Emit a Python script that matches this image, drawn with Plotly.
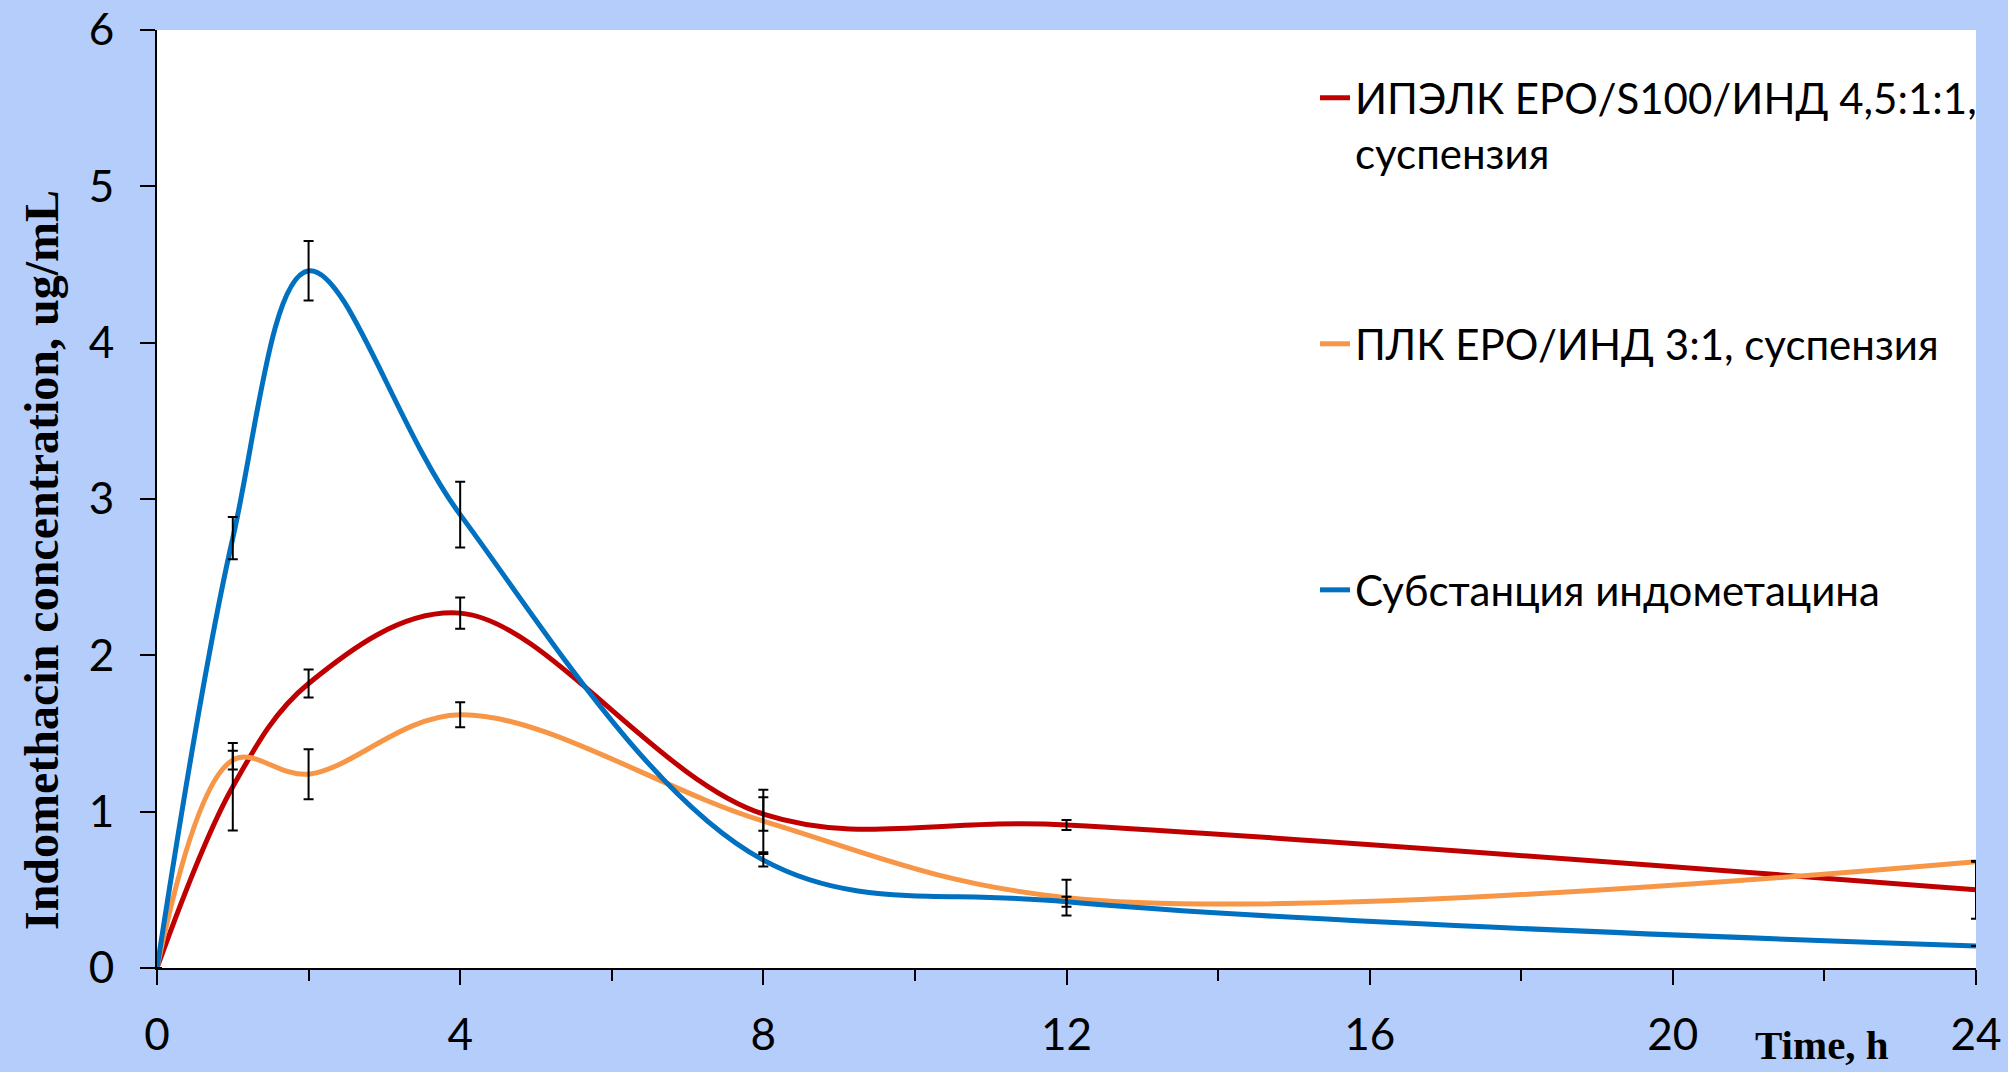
import plotly.graph_objects as go

# ---- data ----
time_h = [0, 1, 2, 4, 8, 12, 24]

ipelk = [0, 1.16, 1.82, 2.27, 0.985, 0.915, 0.50]
ipelk_err = [0, 0.28, 0.09, 0.10, 0.107, 0.032, 0.185]

plk = [0, 1.33, 1.24, 1.62, 0.94, 0.45, 0.68]
plk_err = [0, 0.06, 0.16, 0.08, 0.20, 0.114, 0]

subst = [0, 2.75, 4.46, 2.90, 0.69, 0.424, 0.14]
subst_err = [0, 0.135, 0.19, 0.21, 0.04, 0.032, 0]

names = [
    "ИПЭЛК EPO/S100/ИНД 4,5:1:1,<br>суспензия",
    "ПЛК EPO/ИНД 3:1, суспензия",
    "Субстанция индометацина",
]
colors = ["#C00000", "#F79646", "#0070C0"]
x_ticks = [0, 4, 8, 12, 16, 20, 24]
y_ticks = [0, 1, 2, 3, 4, 5, 6]

BG = "#B4CDFA"
TICK_FONT = dict(family="Lato", size=44, color="black")

fig = go.Figure()
series = [(ipelk, ipelk_err), (plk, plk_err), (subst, subst_err)]
legends = ["legend", "legend2", "legend3"]
for (vals, errs), name, col, lg in zip(series, names, colors, legends):
    fig.add_trace(go.Scatter(
        x=time_h, y=vals, name=name, mode="lines",
        line=dict(color=col, width=5, shape="spline", smoothing=1),
        legend=lg,
    ))
for vals, errs in series:
    fig.add_trace(go.Scatter(
        x=time_h, y=vals, mode="markers", showlegend=False,
        marker=dict(size=1, color="rgba(0,0,0,0)"),
        error_y=dict(type="data", array=errs, visible=True,
                     color="black", thickness=2, width=5),
        hoverinfo="skip",
    ))

leg_common = dict(font=dict(family="Lato", size=42, color="black"),
                  bgcolor="rgba(0,0,0,0)", borderwidth=0,
                  xanchor="left", yanchor="top", valign="top")
fig.update_layout(
    width=2008, height=1072,
    paper_bgcolor=BG, plot_bgcolor="white",
    margin=dict(l=157, r=32, t=30, b=104),
    legend=dict(x=0.6366, y=0.9638, **leg_common),
    legend2=dict(x=0.6366, y=0.7015, **leg_common),
    legend3=dict(x=0.6366, y=0.4392, **leg_common),
    xaxis=dict(range=[0, 24], tickvals=x_ticks, showgrid=False, zeroline=False,
               showline=True, linecolor="black", linewidth=2, automargin=False,
               ticks="outside", ticklen=15, tickwidth=2, tickcolor="black",
               tickfont=TICK_FONT, ticklabelstandoff=12,
               minor=dict(dtick=2, ticks="outside", ticklen=11, tickwidth=2,
                          tickcolor="black", showgrid=False)),
    yaxis=dict(range=[0, 6], tickvals=y_ticks, showgrid=False, zeroline=False,
               showline=True, linecolor="black", linewidth=2, automargin=False,
               ticks="outside", ticklen=15, tickwidth=2, tickcolor="black",
               tickfont=TICK_FONT, ticklabelstandoff=17),
    annotations=[
        dict(text="<b>Indomethacin concentration, ug/mL</b>",
             xref="paper", yref="paper", x=-0.0632, y=0.435,
             xanchor="center", yanchor="middle", textangle=-90, showarrow=False,
             font=dict(family="Liberation Serif", size=48, color="black")),
        dict(text="<b>Time, h</b>",
             xref="paper", yref="paper", x=0.9153, y=-0.0825,
             xanchor="center", yanchor="middle", showarrow=False,
             font=dict(family="Liberation Serif", size=41, color="black")),
    ],
)

fig.write_html("out.html")
